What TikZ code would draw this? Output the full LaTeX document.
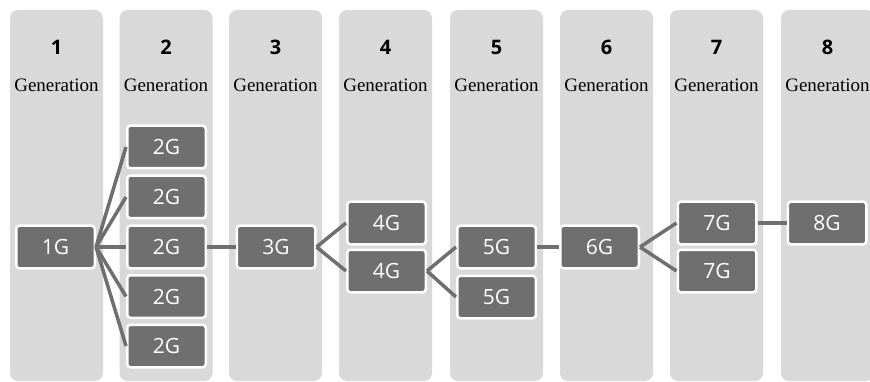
\documentclass[tikz,border=0pt]{standalone}
\usepackage{fontspec}
\setmainfont{Liberation Serif}
\newfontfamily\boxfont{Open Sans}
\newfontfamily\numfont{Open Sans}
\definecolor{colgray}{HTML}{D9D9D9}
\definecolor{boxgray}{HTML}{6F6F6F}
\begin{document}
\begin{tikzpicture}[x=1pt,y=-1pt,
  column/.style={fill=colgray,draw=none,rounded corners=8pt},
  gen/.style={fill=boxgray,draw=white,line width=2.5pt,rounded corners=3pt,
    minimum width=78.5pt,minimum height=42.5pt,inner sep=0pt,
    text=white,font=\boxfont\fontsize{21}{24}\selectfont},
  num/.style={font=\numfont\bfseries\fontsize{20}{22}\selectfont,text=black},
  gentext/.style={font=\fontsize{19}{22}\selectfont,text=black},
  link/.style={draw=boxgray,line width=3.5pt}]
\useasboundingbox (0,0) rectangle (870,382);
\clip (0,0) rectangle (870,382);
% columns
\foreach \x/\n in {10/1,119.5/2,229/3,339/4,450/5,560/6,670/7,781/8}{
  \fill[column] (\x,10) rectangle ++(93,371);
  \node[num] (n\n) at (\x+46.5,47) {\n};
  \node[gentext] (g\n) at (\x+46.5,85) {Generation};
}
% boxes
\node[gen] (a1) at (55.5,247) {1G};
\node[gen] (b1) at (166.5,147) {2G};
\node[gen] (b2) at (166.5,197) {2G};
\node[gen] (b3) at (166.5,247) {2G};
\node[gen] (b4) at (166.5,296.5) {2G};
\node[gen] (b5) at (166.5,346) {2G};
\node[gen] (c1) at (276,247) {3G};
\node[gen] (d1) at (386.5,223) {4G};
\node[gen] (d2) at (386.5,271) {4G};
\node[gen] (e1) at (496.5,247) {5G};
\node[gen] (e2) at (496.5,297) {5G};
\node[gen] (f1) at (599.5,247) {6G};
\node[gen] (h1) at (717,223) {7G};
\node[gen] (h2) at (717,271) {7G};
\node[gen] (k1) at (827,223) {8G};
% connectors
\foreach \t in {b1,b2,b3,b4,b5}{ \draw[link] (a1.east) -- (\t.west); }
\draw[link] (b3.east) -- (c1.west);
\draw[link] (c1.east) -- (d1.west);
\draw[link] (c1.east) -- (d2.west);
\draw[link] (d2.east) -- (e1.west);
\draw[link] (d2.east) -- (e2.west);
\draw[link] (e1.east) -- (f1.west);
\draw[link] (f1.east) -- (h1.west);
\draw[link] (f1.east) -- (h2.west);
\draw[link] (h1.east) -- (k1.west);
\end{tikzpicture}
\end{document}
